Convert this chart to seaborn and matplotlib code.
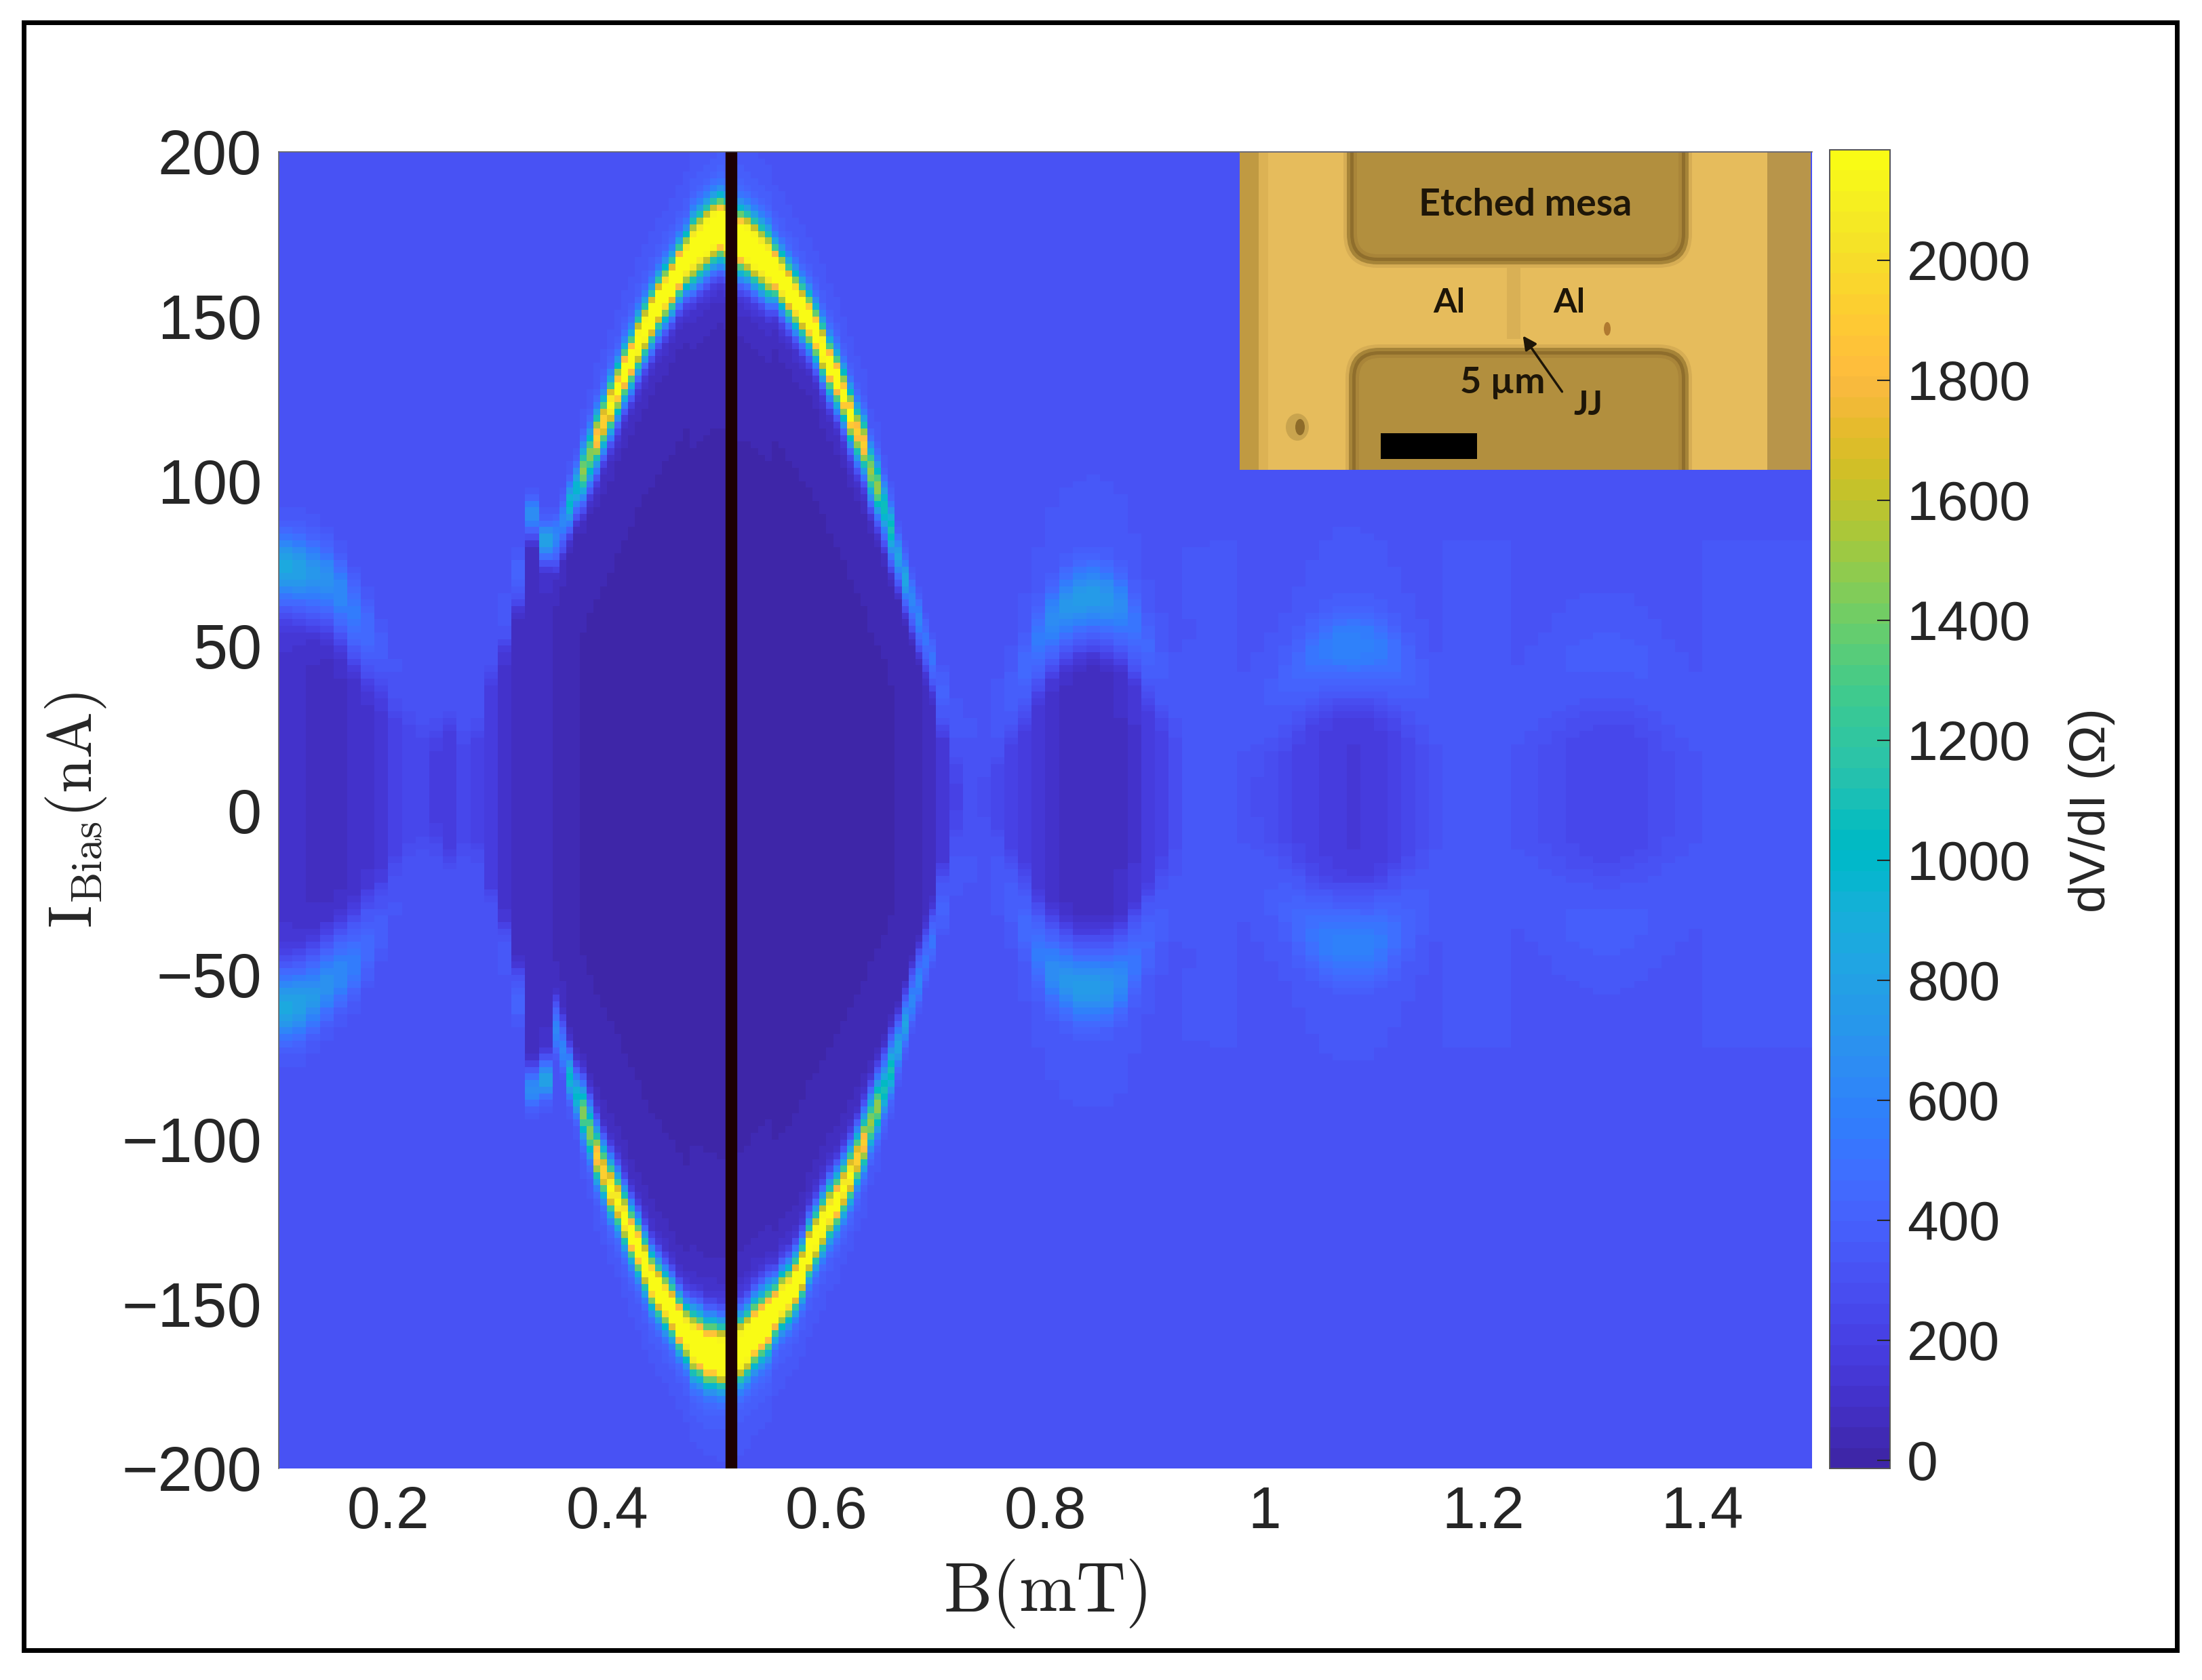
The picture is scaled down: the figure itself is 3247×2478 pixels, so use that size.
import numpy as np
import pandas as pd
import seaborn as sns
import matplotlib
matplotlib.use("Agg")
import matplotlib.pyplot as plt
from matplotlib.colors import ListedColormap
from matplotlib.patches import FancyBboxPatch, Rectangle, Ellipse

W, H = 3248, 2478

# ridge positions in nA: 0.0125 mT readings outside the main lobe, 0.00625 mT inside it
up_left = [74,73,72,70,66,60,55,50,44,40,
           36,36,36,30,34,50,60,72,90,82]
up_main = [83,88,93,98,103,108,113,118,123,128,133,137,142,146,150,154,157,160,164,167,
           170,172,174,176,177,176,175,173,172,170,168,166,164,161,158,155,152,149,145,140,
           135,131,126,120,115,111,103,98,92,85,77,70,64,58,52,46]
up_right = [36,28,
            25,25,30,36,44,52,58,62,64,65,
            64,62,57,50,44,38,70,70,70,70,
            30,33,36,40,44,47,49,50,50,50,49,47,44,40,34,
            70,70,70,70,70,
            32,36,40,43,46,47,48,48,47,45,42,38,34,30,
            70,70,70,70,70,70,70,70]
dn_left = [-60,-59,-57,-53,-50,-47,-42,-37,-30,-25,
           -22,-22,-24,-20,-22,-35,-45,-58,-85,-82]
dn_main = [-67,-73,-81,-87,-92,-98,-105,-110,-115,-119,-124,-129,-133,-138,-143,-146,-149,-152,-156,-159,
           -162,-163,-165,-165,-166,-166,-165,-164,-162,-159,-157,-155,-152,-149,-147,-144,-140,-134,-130,-126,
           -122,-119,-115,-111,-106,-101,-95,-90,-85,-79,-72,-65,-58,-52,-46,-40]
dn_right = [-30,-20,
            -18,-18,-22,-28,-36,-44,-49,-52,-54,-54,
            -54,-52,-47,-41,-35,-29,-60,-60,-60,-60,
            -22,-25,-28,-31,-35,-38,-40,-41,-41,-41,-40,-38,-35,-31,-26,
            -60,-60,-60,-60,-60,
            -24,-27,-30,-33,-35,-36,-37,-37,-36,-34,-32,-29,-26,-23,
            -60,-60,-60,-60,-60,-60,-60,-60]

# readings per 0.0125 mT column, from 0.1 to 1.5 mT
ridge_peak = [820,780,720,680,620,540,450,380,330,310,
              300,300,300,300,300,310,360,420,650,800,
              600,950,1400,1850,2100,2250,2350,2450,2500,2600,
              2700,2800,2800,2800,2800,2700,2600,2500,2400,2350,
              2250,2100,1850,1450,1050,800,620,500,400,350,
              330,320,340,380,440,540,640,700,740,740,
              720,640,520,430,370,340,340,340,340,340,
              340,350,370,400,450,500,550,580,585,575,540,480,420,380,350,
              340,340,340,340,340,
              340,345,350,360,370,375,380,380,375,370,360,350,345,340,
              340,340,340,340,340,340,340,340]
floor_r = [110,100,80,75,80,90,115,150,200,235,
           230,190,165,240,215,165,120,75,60,80,
           50,30,20,20,20,20,20,20,20,20,
           20,20,20,20,20,20,20,20,20,20,
           20,20,20,20,20,25,40,70,130,220,
           310,280,240,200,165,130,100,75,60,60,
           65,85,120,165,215,270,330,345,345,335,
           310,290,265,240,215,195,178,160,150,155,175,205,240,275,310,
           335,345,345,345,335,
           320,300,280,265,255,248,243,240,243,250,262,285,305,325,
           340,340,340,340,340,340,340,340]
soft = [8,8,8,8,8,8,8,7,7,7,
        7,6,5,5,5,5,5,5,4,4,
        5,5,6,6,6,6,6,6,6,6,
        7,7,7,7,7,7,6,6,6,6,
        6,6,6,6,6,5,5,5,6,7,
        7,7,7,7,8,8,8,8,8,8,
        8,8,8,8,8,8,8,8,9,9,
        9,9,9,9,9,9,9,9,9,9,
        9,9,9,9,9,9,9,9,9,9,
        9,9,9,9,9,9,9,9,9,9,
        9,9,9,9,9,9,9,9,9,9,9,9]
normal_r = [300]*50 + [325]*62

b_ticks = [0.2, 0.4, 0.6, 0.8, 1.0, 1.2, 1.4]
b_labels = ["0.2", "0.4", "0.6", "0.8", "1", "1.2", "1.4"]
i_ticks = [200, 150, 100, 50, 0, -50, -100, -150, -200]
i_labels = ["200", "150", "100", "50", "0", "\u221250", "\u2212100", "\u2212150", "\u2212200"]
cbar_ticks = [0, 200, 400, 600, 800, 1000, 1200, 1400, 1600, 1800, 2000]
marked_b = 0.513

parula = [[.2422,.1504,.6603],[.2504,.1650,.7076],[.2578,.1818,.7511],[.2647,.1978,.7952],
          [.2706,.2147,.8364],[.2751,.2342,.8710],[.2783,.2559,.8991],[.2803,.2782,.9221],
          [.2813,.3006,.9414],[.2810,.3228,.9579],[.2795,.3447,.9717],[.2760,.3667,.9829],
          [.2699,.3892,.9906],[.2602,.4123,.9952],[.2440,.4358,.9988],[.2206,.4603,.9973],
          [.1963,.4847,.9892],[.1834,.5074,.9798],[.1786,.5289,.9682],[.1764,.5499,.9520],
          [.1687,.5703,.9359],[.1540,.5902,.9218],[.1460,.6091,.9079],[.1380,.6276,.8973],
          [.1248,.6459,.8883],[.1113,.6635,.8763],[.0952,.6798,.8598],[.0689,.6948,.8394],
          [.0297,.7082,.8163],[.0036,.7203,.7917],[.0067,.7312,.7660],[.0433,.7411,.7394],
          [.0964,.7500,.7120],[.1408,.7584,.6842],[.1717,.7670,.6554],[.1938,.7758,.6251],
          [.2161,.7843,.5923],[.2470,.7918,.5567],[.2906,.7973,.5188],[.3406,.8008,.4789],
          [.3909,.8029,.4354],[.4456,.8024,.3909],[.5044,.7993,.3480],[.5616,.7942,.3045],
          [.6174,.7876,.2612],[.6720,.7793,.2227],[.7242,.7698,.1910],[.7738,.7598,.1646],
          [.8203,.7498,.1535],[.8634,.7406,.1596],[.9035,.7330,.1774],[.9393,.7288,.2100],
          [.9728,.7298,.2394],[.9956,.7434,.2371],[.9970,.7659,.2199],[.9952,.7893,.2028],
          [.9892,.8136,.1885],[.9786,.8386,.1766],[.9676,.8639,.1643],[.9610,.8890,.1537],
          [.9597,.9135,.1423],[.9628,.9373,.1265],[.9691,.9606,.1064],[.9769,.9839,.0805]]
cmap = ListedColormap(parula, name="parula")

sns.set_theme(style="white")
plt.rcParams["font.family"] = ["Liberation Sans", "DejaVu Sans"]
plt.rcParams["mathtext.fontset"] = "cm"
ink = "#262626"


def px_box(x0, y0, x1, y1):
    return [x0 / W, 1 - y1 / H, (x1 - x0) / W, (y1 - y0) / H]


# build dV/dI columns from the readings above
ridge_up = list(np.repeat(up_left, 2)) + up_main + list(np.repeat(up_right, 2))
ridge_dn = list(np.repeat(dn_left, 2)) + dn_main + list(np.repeat(dn_right, 2))
peak_col = np.repeat(ridge_peak, 2)
floor_col = np.repeat(floor_r, 2)
soft_col = np.repeat(soft, 2)
normal_col = np.repeat(normal_r, 2)

i_rows = np.arange(199, -200, -2)
b_step = 0.00625
grid = np.zeros((len(i_rows), len(ridge_up)))
for k in range(len(ridge_up)):
    s = soft_col[k]
    base = normal_col[k]
    hi = ridge_up[k] - 2 * s
    lo = ridge_dn[k] + 2 * s
    mask = 0.5 * (np.tanh((hi - i_rows) / (0.5 * s)) + np.tanh((i_rows - lo) / (0.5 * s)))
    mask = np.clip(mask, 0, 1)
    col = base + (floor_col[k] - base) * mask
    for r in (ridge_up[k], ridge_dn[k]):
        amp = peak_col[k] - base
        col = col + amp * np.exp(-((i_rows - r) / (1.15 * s)) ** 2)
        col = col + 0.06 * amp * np.exp(-((i_rows - r) / (3.5 * s)) ** 2)
    grid[:, k] = col

b_centres = 0.1 + b_step * (np.arange(len(ridge_up)) + 0.5)
df = pd.DataFrame(grid, index=i_rows, columns=np.round(b_centres, 5))

fig = plt.figure(figsize=(W / 100, H / 100), dpi=100, facecolor="white")
ax = fig.add_axes(px_box(411, 224, 2672, 2166))
cax = fig.add_axes(px_box(2698, 221, 2787, 2166))

sns.heatmap(df, ax=ax, cbar_ax=cax, cmap=cmap, vmin=-14, vmax=2184,
            xticklabels=False, yticklabels=False,
            cbar_kws={"ticks": cbar_ticks})

ax.set_xticks([(b - 0.1) / b_step for b in b_ticks])
ax.set_xticklabels(b_labels, fontsize=63, color=ink)
ax.set_yticks([(199 - v) / 2 + 0.5 for v in i_ticks])
ax.set_yticklabels(i_labels, fontsize=66, color=ink)
ax.tick_params(axis="both", length=0, pad=18, rotation=0)
for name, sp in ax.spines.items():
    sp.set_visible(name in ("top", "left"))
    sp.set_color("#666666")
    sp.set_linewidth(1.2)

ax.set_xlabel(r"$\mathrm{B(mT)}$", fontsize=73, color=ink, labelpad=18)
ax.set_ylabel(r"$\mathrm{I_{Bias}(nA)}$", fontsize=66, color=ink, labelpad=14)

ax.axvline((marked_b - 0.1) / b_step, color="#1c0004", lw=12.5, solid_capstyle="butt", zorder=5)

cb = ax.collections[0].colorbar
cb.ax.set_axisbelow(False)
cb.ax.tick_params(axis="y", which="major", direction="in", length=14, width=1.5,
                  color=ink, labelsize=59, labelcolor=ink, pad=18, right=True, left=False)
cb.outline.set_visible(True)
cb.outline.set_edgecolor("#555555")
cb.outline.set_linewidth(1.4)
fig.text(3085 / W, 1 - 1195 / H, "dV/dI (\u03a9)", rotation=90, ha="center", va="center",
         fontsize=54, color=ink)

# microscope photo inset
inset = fig.add_axes(px_box(1828, 225, 2670, 693), zorder=6)
inset.set_xlim(1828, 2670)
inset.set_ylim(693, 225)
inset.set_xticks([])
inset.set_yticks([])
inset.set_facecolor("#E6BC5C")
for sp in inset.spines.values():
    sp.set_visible(False)

inset.add_patch(Rectangle((1828, 225), 28, 468, fc="#C09A42", ec="none"))
inset.add_patch(Rectangle((1856, 225), 14, 468, fc="#DCB254", ec="none"))
inset.add_patch(Rectangle((2606, 225), 64, 468, fc="#B8954A", ec="none"))


def mesa(x0, y0, x1, y1):
    for grow, col in [(10, "#D6AD54"), (5, "#A68438"), (0, "#8F6E2C"), (-5, "#A98539"), (-10, "#B28F3E")]:
        inset.add_patch(FancyBboxPatch((x0 - grow, y0 - grow), x1 - x0 + 2 * grow, y1 - y0 + 2 * grow,
                                       boxstyle="round,pad=0,rounding_size=%d" % (40 + grow),
                                       fc=col, ec="none"))


mesa(1991, 130, 2485, 385)
mesa(1994, 518, 2485, 800)
inset.add_patch(Rectangle((2222, 395), 20, 105, fc="#D9B055", ec="none"))
inset.add_patch(Ellipse((2370, 485), 10, 20, fc="#B07A30", ec="none"))
inset.add_patch(Ellipse((1913, 630), 34, 40, fc="#C9A44E", ec="none"))
inset.add_patch(Ellipse((1917, 630), 14, 24, fc="#8E6C2A", ec="none"))
inset.add_patch(Rectangle((2036, 639), 142, 38, fc="black", ec="none"))

photo_font = {"family": "Lato", "fontweight": "bold", "color": "#1e1608", "ha": "center", "va": "center"}
inset.text(2249, 302, "Etched mesa", fontsize=40, **photo_font)
inset.text(2137, 447, "Al", fontsize=36, **photo_font)
inset.text(2314, 447, "Al", fontsize=36, **photo_font)
inset.text(2216, 565, "5 \u00b5m", fontsize=39, **photo_font)
inset.text(2342, 598, "JJ", fontsize=36, **photo_font)
inset.annotate("", xy=(2244, 493), xytext=(2305, 580),
               arrowprops=dict(arrowstyle="-|>", color="#1e1608", lw=2.5, mutation_scale=30))

# black frame around the whole figure
fig.add_artist(Rectangle((35 / W, 1 - 2434 / H), (3210 - 35) / W, (2434 - 33) / H,
                         transform=fig.transFigure, fill=False, ec="black", lw=5))

fig.savefig("out.png", dpi=100, facecolor="white")
